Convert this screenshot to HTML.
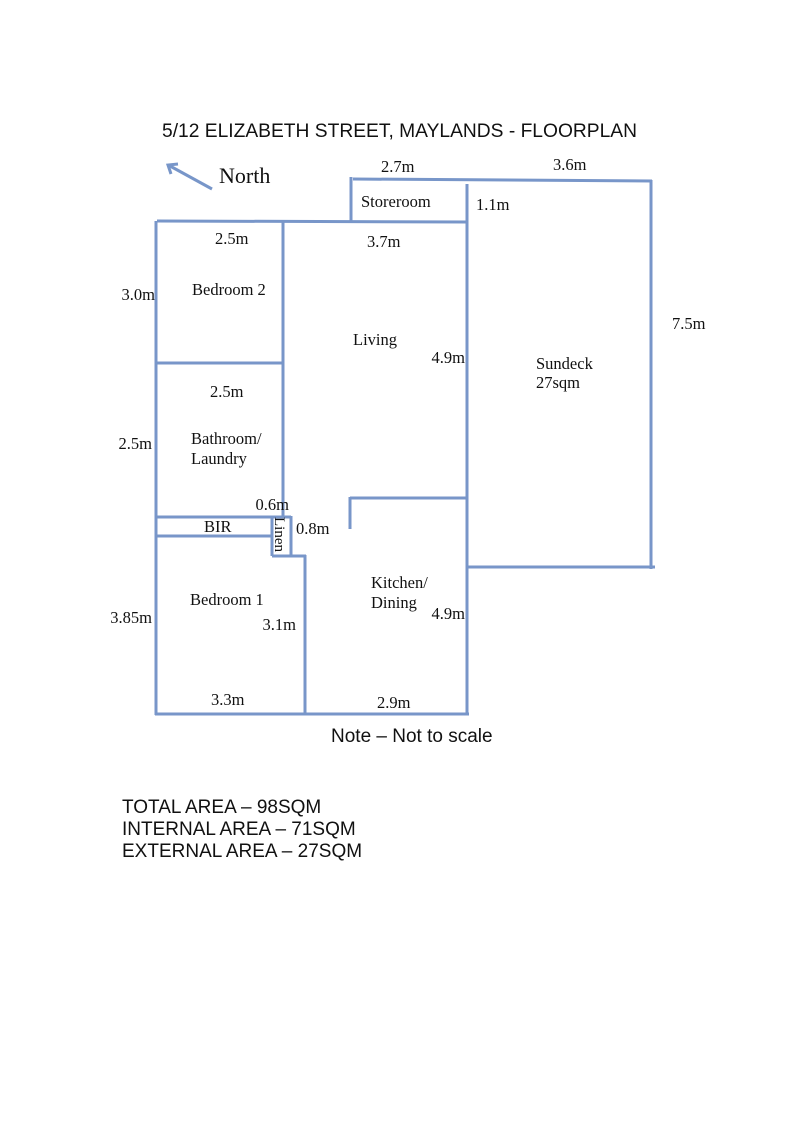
<!DOCTYPE html>
<html><head><meta charset="utf-8"><style>
html,body{margin:0;padding:0;background:#fff;width:800px;height:1130px;overflow:hidden}
.s{font-family:"Liberation Serif",serif;font-size:16.5px;fill:#111}
.e{text-anchor:end}
.a{font-family:"Liberation Sans",sans-serif;font-size:19px;fill:#111}
</style></head><body>
<svg width="800" height="1130" viewBox="0 0 800 1130" xmlns="http://www.w3.org/2000/svg">
<g stroke="#7896c9" stroke-width="3" fill="none" stroke-linecap="butt">
<line x1="212" y1="189" x2="170" y2="166"/>
<polyline points="171,174 168,165 178,164"/>
<line x1="157" y1="221" x2="468" y2="222"/>
<line x1="156" y1="221" x2="156" y2="715"/>
<line x1="155" y1="714" x2="469" y2="714"/>
<line x1="467" y1="184" x2="467" y2="715"/>
<line x1="283" y1="221" x2="283" y2="518"/>
<line x1="156" y1="363" x2="283" y2="363"/>
<line x1="157" y1="517" x2="291" y2="517"/>
<line x1="156" y1="536" x2="272" y2="536"/>
<line x1="272" y1="516" x2="272" y2="556"/>
<line x1="291" y1="516" x2="291" y2="556"/>
<line x1="272" y1="556" x2="306" y2="556"/>
<line x1="305" y1="555" x2="305" y2="714"/>
<line x1="350" y1="498" x2="467" y2="498"/>
<line x1="350" y1="497" x2="350" y2="529"/>
<line x1="351" y1="177" x2="351" y2="221"/>
<line x1="353" y1="179" x2="652" y2="181"/>
<line x1="651" y1="180" x2="651" y2="569"/>
<line x1="468" y1="567" x2="655" y2="567"/>
</g>
<text class="a" x="162" y="137" textLength="475" lengthAdjust="spacingAndGlyphs">5/12 ELIZABETH STREET, MAYLANDS  - FLOORPLAN</text>
<text class="s" x="219" y="183" style="font-size:22px">North</text>
<text class="s" x="381" y="172">2.7m</text>
<text class="s" x="553" y="170">3.6m</text>
<text class="s" x="361" y="207">Storeroom</text>
<text class="s" x="476" y="210">1.1m</text>
<text class="s" x="215" y="244">2.5m</text>
<text class="s" x="367" y="247">3.7m</text>
<text class="s" x="192" y="295">Bedroom 2</text>
<text class="s e" x="155" y="300">3.0m</text>
<text class="s" x="353" y="345">Living</text>
<text class="s e" x="465" y="363">4.9m</text>
<text class="s" x="536" y="369">Sundeck</text>
<text class="s" x="536" y="388">27sqm</text>
<text class="s" x="672" y="329">7.5m</text>
<text class="s" x="210" y="397">2.5m</text>
<text class="s e" x="152" y="449">2.5m</text>
<text class="s" x="191" y="444">Bathroom/</text>
<text class="s" x="191" y="464">Laundry</text>
<text class="s e" x="289" y="510">0.6m</text>
<text class="s" x="204" y="532">BIR</text>
<text class="s" x="296" y="534">0.8m</text>
<text class="s" transform="translate(275,517) rotate(90)" x="0" y="0" style="font-size:15px">Linen</text>
<text class="s" x="371" y="588">Kitchen/</text>
<text class="s" x="371" y="608">Dining</text>
<text class="s e" x="465" y="619">4.9m</text>
<text class="s" x="190" y="605">Bedroom 1</text>
<text class="s e" x="296" y="630">3.1m</text>
<text class="s e" x="152" y="623">3.85m</text>
<text class="s" x="211" y="705">3.3m</text>
<text class="s" x="377" y="708">2.9m</text>
<text class="a" x="331" y="742">Note – Not to scale</text>
<text class="a" x="122" y="813">TOTAL AREA – 98SQM</text>
<text class="a" x="122" y="835">INTERNAL AREA – 71SQM</text>
<text class="a" x="122" y="857">EXTERNAL AREA – 27SQM</text>
</svg>
</body></html>
